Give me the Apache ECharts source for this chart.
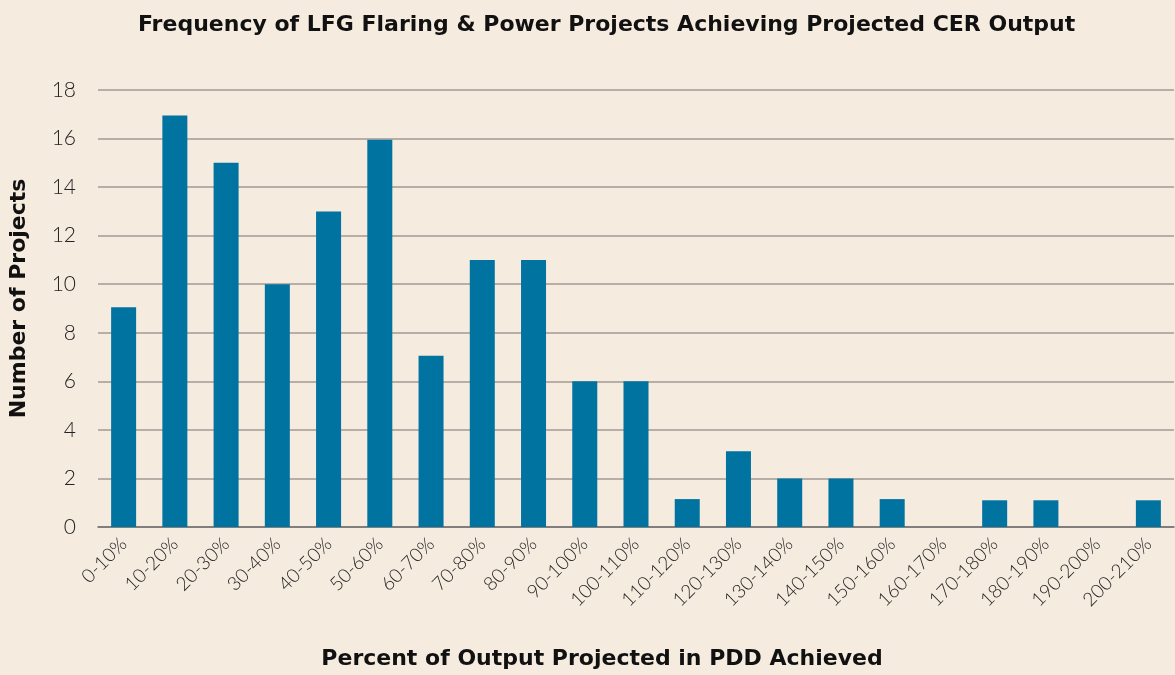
<!DOCTYPE html>
<html lang="en">
<head>
    <meta charset="UTF-8">
    <title>CER Output</title>
</head>
<script src="https://cdn.jsdelivr.net/npm/echarts@6/dist/echarts.min.js" type="text/javascript"></script>
<body style="margin:0;background:#f5ebdf;">
<div id="bar" style="width:1175px;height:675px;"></div>

<script type="text/javascript">
    var categories = ['0-10%', '10-20%', '20-30%', '30-40%', '40-50%', '50-60%', '60-70%',
        '70-80%', '80-90%', '90-100%', '100-110%', '110-120%', '120-130%', '130-140%',
        '140-150%', '150-160%', '160-170%', '170-180%', '180-190%', '190-200%', '200-210%'];
    var projects = [9.05, 16.95, 15, 10, 13, 15.95, 7.05, 11, 11, 6, 6, 1.15, 3.12, 2, 2, 1.15, 0, 1.1, 1.1, 0, 1.1];
    var yTicks = [0, 2, 4, 6, 8, 10, 12, 14, 16, 18];

    var barChart = echarts.init(document.getElementById('bar'));
    var barOption = {
        backgroundColor: '#f5ebdf',
        textStyle: { fontFamily: 'Lato' },
        title: {
            text: 'Frequency of LFG Flaring & Power Projects Achieving Projected CER Output',
            left: 133,
            top: 9,
            textStyle: { fontSize: 22, fontWeight: 'bold', color: '#111', fontFamily: 'DejaVu Sans' }
        },
        grid: { left: 93, right: 1, top: 90, bottom: 147 },
        xAxis: {
            type: 'category',
            data: categories,
            name: 'Percent of Output Projected in PDD Achieved',
            nameLocation: 'middle',
            nameGap: 121,
            nameTextStyle: { fontSize: 22, fontWeight: 'bold', color: '#111', fontFamily: 'DejaVu Sans', padding: [0, 68, 0, 0] },
            axisLine: { lineStyle: { color: '#707070', width: 1.5 } },
            axisTick: { show: false },
            axisLabel: { rotate: 45, fontSize: 19, fontWeight: 300, color: '#222', margin: 14, interval: 0 }
        },
        yAxis: {
            type: 'value',
            min: yTicks[0],
            max: yTicks[yTicks.length - 1],
            interval: 2,
            name: 'Number of Projects',
            nameLocation: 'middle',
            nameGap: 68,
            nameTextStyle: { fontSize: 22, fontWeight: 'bold', color: '#111', fontFamily: 'DejaVu Sans', padding: [0, 0, 0, 20] },
            axisLine: { show: false },
            axisTick: { show: false },
            axisLabel: { fontSize: 21, fontWeight: 300, color: '#222', margin: 22 },
            splitLine: { lineStyle: { color: '#a09a94', width: 1.5 } }
        },
        series: [
            {
                type: 'bar',
                data: projects,
                barWidth: 25,
                itemStyle: { color: '#0073a1' }
            }
        ]
    };
    barChart.setOption(barOption);
</script>
</body>
</html>
